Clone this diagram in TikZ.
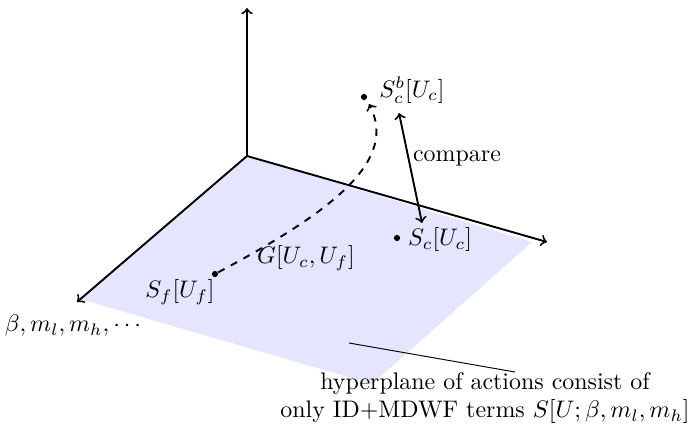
\documentclass[tikz,border=0pt]{standalone}
\usepackage{amsmath}
\begin{document}
\begin{tikzpicture}[x=0.418pt,y=-0.418pt,
  axis/.style={thick,->,>=to},
  dotm/.style={circle,fill=black,inner sep=0pt,minimum size=2.6pt},
  lbl/.style={inner sep=1pt}]
\useasboundingbox (0,0) rectangle (693,426);
\coordinate (O) at (247,156);
\coordinate (Z) at (247,8);
\coordinate (L) at (77,302);
\coordinate (R) at (547,242);
\fill[blue!10] (247,156) -- (80,299) -- (372,384) -- (532,242) -- cycle;
\draw[axis] (O) -- (Z);
\draw[axis] (O) -- (L);
\draw[axis] (O) -- (R);
\node[lbl] (beta) at (75,326) {$\beta, m_l, m_h, \cdots$};
\node[dotm] (sf) at (215,274) {};
\node[lbl] (sfl) at (180,292) {$S_f[U_f]$};
\node[dotm] (scb) at (364,97) {};
\node[lbl] (scbl) at (412,90) {$S_c^b[U_c]$};
\node[dotm] (sc) at (397,238) {};
\node[lbl] (scl) at (440,240) {$S_c[U_c]$};
\coordinate (cbtop) at (399,113);
\coordinate (cbot) at (422,223);
\draw[thick,<->,>=to] (cbtop) -- (cbot);
\node[lbl] (cmp) at (457,158) {compare};
\draw[thick,dashed,->,>=to] (sf) .. controls (335,210) and (398,160) .. (369,104);
\node[lbl] (G) at (306,258) {$G[U_c,U_f]$};
\coordinate (p1) at (349,343);
\coordinate (p2) at (515,372);
\draw (p1) -- (p2);
\node[lbl,align=center] (txt) at (485,398) {hyperplane of actions consist of\\only ID+MDWF terms $S[U;\beta,m_l,m_h]$};
\end{tikzpicture}
\end{document}
